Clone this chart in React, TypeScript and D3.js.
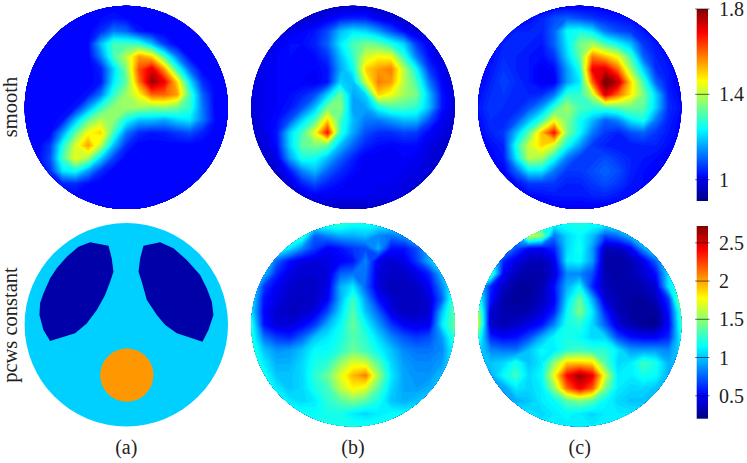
import React from "react";
import * as d3 from "d3";

const W = 747, H = 463;
// Field samples, in hundredths of the plotted quantity.
// 17 x 17 lattice over the disk's bounding square.
const smoothTruth = [
[101,101,101,101,101,101,101,101,101,101,101,101,101,101,101,101,101],
[101,101,101,101,101,101,102,103,102,101,101,101,101,101,101,101,101],
[101,101,101,101,101,101,105,112,110,103,101,101,101,101,101,101,101],
[101,101,101,101,101,102,118,130,130,128,118,106,101,101,101,101,101],
[101,101,101,101,101,101,113,130,140,155,150,130,112,101,101,101,101],
[101,101,101,101,101,101,104,120,135,162,172,155,128,110,101,101,101],
[101,101,101,101,101,101,103,122,132,158,178,170,150,122,105,101,101],
[101,101,101,101,101,103,112,128,138,146,160,160,155,130,110,101,101],
[101,101,101,101,103,115,128,136,138,138,136,137,134,128,112,101,101],
[101,101,101,103,118,132,140,136,125,118,118,116,120,122,112,102,101],
[101,101,101,115,132,146,150,130,112,105,103,104,106,108,104,101,101],
[101,101,106,126,143,155,140,118,105,101,101,101,101,101,101,101,101],
[101,101,108,130,145,138,120,107,101,101,101,101,101,101,101,101,101],
[101,101,105,122,125,115,105,101,101,101,101,101,101,101,101,101,101],
[101,101,101,104,105,102,101,101,101,101,101,101,101,101,101,101,101],
[101,101,101,101,101,101,101,101,101,101,101,101,101,101,101,101,101],
[101,101,101,101,101,101,101,101,101,101,101,101,101,101,101,101,101],
];
const smoothMiddle = [
[96,96,96,96,96,96,96,96,96,96,96,96,96,96,96,96,96],
[96,96,96,96,96,98,100,103,104,104,100,98,96,96,96,96,96],
[96,96,97,99,101,103,108,118,122,120,115,108,102,98,96,96,96],
[96,97,100,102,102,104,110,122,130,134,132,126,120,106,100,97,96],
[96,99,101,102,101,102,106,118,128,142,146,145,128,112,102,98,96],
[97,100,101,101,101,101,103,116,124,150,155,158,140,124,106,100,96],
[98,100,101,101,101,100,103,120,118,142,158,155,140,130,112,101,97],
[98,100,101,102,104,108,120,133,116,120,150,145,138,134,118,103,98],
[98,100,101,103,108,118,134,136,115,116,125,130,130,128,118,103,98],
[97,100,102,108,120,130,150,130,118,112,112,115,118,118,108,100,97],
[97,99,103,120,130,145,168,128,116,108,105,105,107,106,101,99,97],
[96,98,102,120,132,135,132,118,110,104,102,101,102,102,99,97,96],
[96,97,99,115,126,125,118,110,104,100,100,100,101,100,98,97,96],
[96,96,97,103,113,118,110,105,102,100,100,100,100,99,98,96,96],
[96,96,96,98,104,108,104,102,100,100,100,100,99,98,97,96,96],
[96,96,96,96,98,100,100,100,100,100,99,99,98,97,96,96,96],
[96,96,96,96,96,96,96,96,96,96,96,96,96,96,96,96,96],
];
const smoothRight = [
[100,100,100,100,100,100,100,100,100,100,100,100,100,100,100,100,100],
[100,100,100,100,102,104,108,110,108,106,104,103,102,101,100,100,100],
[100,100,102,104,104,104,110,124,126,122,112,108,106,103,101,100,100],
[100,102,104,104,104,103,110,122,134,138,130,124,118,106,103,100,100],
[100,102,105,104,103,102,106,120,132,158,152,145,130,110,104,102,100],
[100,103,106,104,103,100,102,115,126,170,172,160,138,120,105,103,100],
[101,104,107,105,103,100,100,115,122,160,182,175,150,130,110,103,100],
[102,105,106,104,104,105,112,128,128,140,172,160,148,135,120,104,101],
[103,106,105,104,108,115,128,138,130,128,130,132,134,132,120,105,102],
[102,105,104,108,118,128,145,135,125,118,110,113,122,126,112,104,101],
[101,104,106,118,132,152,168,135,124,112,106,104,108,110,106,103,101],
[100,102,104,126,142,150,142,125,115,106,104,103,103,104,104,102,100],
[100,101,103,122,140,138,125,112,106,106,108,106,104,103,102,101,100],
[100,100,101,110,122,122,112,106,106,108,110,108,104,102,101,100,100],
[100,100,100,102,106,106,106,104,104,106,108,106,103,102,101,100,100],
[100,100,100,100,101,102,103,103,103,104,104,103,102,101,100,100,100],
[100,100,100,100,100,100,100,100,100,100,100,100,100,100,100,100,100],
];
const pcwsMiddle = [
[130,130,130,130,130,130,130,130,120,120,120,120,130,130,130,130,130],
[130,130,130,130,130,75,85,95,95,100,85,80,90,130,130,130,130],
[130,130,130,110,85,65,50,55,65,70,95,55,55,70,100,125,130],
[130,125,75,55,45,42,45,50,55,85,45,40,45,65,95,125,130],
[130,100,60,45,40,40,42,75,80,80,42,38,38,45,60,100,130],
[125,65,48,40,38,38,45,95,110,75,42,35,35,38,50,85,130],
[115,55,45,38,36,38,50,95,130,90,55,40,35,35,42,75,140],
[110,52,40,36,38,45,70,105,135,100,75,45,36,36,40,100,140],
[125,55,42,42,50,65,95,115,140,115,90,65,50,45,48,110,140],
[125,80,65,60,75,100,110,120,135,125,105,85,72,65,70,90,130],
[130,100,88,90,100,115,115,125,140,130,115,100,85,80,80,85,120],
[130,110,95,95,105,120,125,150,170,165,135,105,90,85,85,90,120],
[130,120,100,100,105,125,140,170,195,210,155,110,92,88,88,100,120],
[130,120,110,100,105,120,130,160,180,170,135,105,92,90,95,110,120],
[120,120,120,110,105,110,125,135,145,135,120,100,95,100,110,120,120],
[120,120,120,120,120,115,120,120,110,105,110,115,115,115,120,120,120],
[120,120,120,120,120,120,120,120,120,120,120,120,120,120,120,120,120],
];
const pcwsRight = [
[120,120,120,120,120,120,120,120,120,120,120,120,120,120,120,120,120],
[120,120,120,100,170,150,80,105,115,100,70,80,100,130,130,120,120],
[120,120,110,70,50,50,60,105,120,90,35,35,50,90,130,130,120],
[120,130,60,45,35,33,45,110,115,90,30,28,33,45,75,115,120],
[120,140,50,35,30,30,42,85,85,70,32,30,32,40,55,110,120],
[120,60,38,28,27,32,55,95,115,60,35,30,30,33,42,110,130],
[130,55,30,27,28,35,50,105,140,95,40,32,28,28,35,65,170],
[160,40,32,30,33,42,60,115,145,110,60,35,28,26,26,55,135],
[165,38,33,38,45,55,85,120,125,105,75,42,32,25,25,50,130],
[130,60,52,55,70,95,115,120,115,105,105,70,55,50,50,60,120],
[110,85,80,80,100,115,110,125,130,125,125,110,90,90,90,85,110],
[100,100,105,120,100,110,150,190,190,185,135,105,110,130,120,95,100],
[100,95,115,130,105,115,175,240,265,245,170,110,110,120,115,95,100],
[100,100,90,110,105,110,150,215,245,220,145,110,105,105,100,100,100],
[100,100,100,95,100,110,115,135,145,135,115,105,100,100,100,100,100],
[110,110,110,110,110,105,110,115,110,105,110,110,110,110,110,110,110],
[110,110,110,110,110,110,110,110,110,110,110,110,110,110,110,110,110],
];
// Piecewise-constant truth: region values and outlines in unit-disk coordinates.
const pcwsBackground = 1.03, pcwsLungValue = 0.3, pcwsInclusionValue = 2.03;
const lungLeft: [number, number][] = [[-.175,-.777],[-.356,-.81],[-.47,-.767],[-.585,-.669],[-.684,-.554],[-.749,-.456],[-.815,-.308],[-.848,-.21],[-.854,-.095],[-.815,.052],[-.749,.161],[-.503,.085],[-.389,-.013],[-.29,-.144],[-.208,-.292],[-.159,-.423],[-.126,-.521],[-.143,-.652]];
const lungRight: [number, number][] = [[.169,-.777],[.333,-.81],[.464,-.751],[.595,-.636],[.726,-.489],[.792,-.357],[.841,-.226],[.857,-.095],[.808,.052],[.749,.167],[.497,.085],[.382,.003],[.3,-.095],[.202,-.243],[.152,-.423],[.12,-.521],[.136,-.652]];
const inclusion = { u: 0.005, v: 0.495, r: 0.262 };

const smoothDomain: [number, number] = [0.9, 1.8];
const pcwsDomain: [number, number] = [0.2, 2.72];
const smoothTicks = [1, 1.4, 1.8];
const pcwsTicks = [0.5, 1, 1.5, 2, 2.5];
const columnLabels = ["(a)", "(b)", "(c)"];

const FONT = "'Liberation Serif', serif";
const R = 101.7;
const COLX = [126.3, 353, 579.7];
const ROWY = [107.4, 324.7];

const jetT = d3.scaleLinear<string>()
  .domain([0, 1 / 8, 3 / 8, 5 / 8, 7 / 8, 1])
  .range(["#000080", "#0000ff", "#00ffff", "#ffff00", "#ff0000", "#800000"])
  .clamp(true);

function Field({ grid, domain, cx, cy, id }: { grid: number[][]; domain: [number, number]; cx: number; cy: number; id: string }) {
  const n = grid.length;
  const values = grid.flat().map((v) => v / 100);
  const t = d3.scaleLinear().domain(domain).range([0, 1]);
  const levels = d3.range(90).map((k) => domain[0] + ((domain[1] - domain[0]) * k) / 90);
  const sx = d3.scaleLinear().domain([0.5, n - 0.5]).range([cx - R, cx + R]);
  const sy = d3.scaleLinear().domain([0.5, n - 0.5]).range([cy - R, cy + R]);
  const path = d3.geoPath(
    d3.geoTransform({
      point(x: number, y: number) {
        (this as any).stream.point(sx(x), sy(y));
      },
    })
  );
  const polys = d3.contours().size([n, n]).thresholds(levels)(values);
  const step = (domain[1] - domain[0]) / 90;
  return (
    <g>
      <clipPath id={id}>
        <circle cx={cx} cy={cy} r={R} />
      </clipPath>
      <g clipPath={`url(#${id})`}>
        <circle cx={cx} cy={cy} r={R} fill={jetT(t(d3.min(values)!))} />
        {polys.map((c, k) =>
          c.coordinates.length ? <path key={k} d={path(c as any) || ""} fill={jetT(t(c.value + step / 2))} /> : null
        )}
      </g>
    </g>
  );
}

function Truth({ cx, cy }: { cx: number; cy: number }) {
  const t = d3.scaleLinear().domain(pcwsDomain).range([0, 1]);
  const x = d3.scaleLinear().domain([-1, 1]).range([cx - R, cx + R]);
  const y = d3.scaleLinear().domain([-1, 1]).range([cy - R, cy + R]);
  const line = d3.line<[number, number]>().x((d) => x(d[0])).y((d) => y(d[1])).curve(d3.curveLinearClosed);
  return (
    <g>
      <circle cx={cx} cy={cy} r={R} fill={jetT(t(pcwsBackground))} />
      <path d={line(lungLeft)!} fill={jetT(t(pcwsLungValue))} />
      <path d={line(lungRight)!} fill={jetT(t(pcwsLungValue))} />
      <circle cx={x(inclusion.u)} cy={y(inclusion.v)} r={x(inclusion.r) - x(0)} fill={jetT(t(pcwsInclusionValue))} />
    </g>
  );
}

function ColorBar({ domain, ticks, top, bottom, id, fmt }: { domain: [number, number]; ticks: number[]; top: number; bottom: number; id: string; fmt: (v: number) => string }) {
  const x0 = 696.7, x1 = 708;
  const y = d3.scaleLinear().domain(domain).range([bottom, top]);
  const stops = [0, 1 / 8, 3 / 8, 5 / 8, 7 / 8, 1];
  return (
    <g>
      <defs>
        <linearGradient id={id} x1="0" y1="1" x2="0" y2="0">
          {stops.map((s) => (
            <stop key={s} offset={s} stopColor={jetT(s)} />
          ))}
        </linearGradient>
      </defs>
      <rect x={x0} y={top} width={x1 - x0} height={bottom - top} fill={`url(#${id})`} />
      {ticks.map((v) => (
        <g key={v}>
          <line x1={x0 - 1.5} x2={x1 + 1.5} y1={y(v)} y2={y(v)} stroke="#000" strokeOpacity={0.75} strokeWidth={0.8} />
          <text x={719} y={y(v) + 7} fontFamily={FONT} fontSize={20} fill="#222">{fmt(v)}</text>
        </g>
      ))}
    </g>
  );
}

export default function App() {
  return (
    <svg width={W} height={H} viewBox={`0 0 ${W} ${H}`} style={{ position: "absolute", left: 0, top: 0, display: "block", background: "#fff" }}>
      <Field grid={smoothTruth} domain={smoothDomain} cx={COLX[0]} cy={ROWY[0]} id="f1" />
      <Field grid={smoothMiddle} domain={smoothDomain} cx={COLX[1]} cy={ROWY[0]} id="f2" />
      <Field grid={smoothRight} domain={smoothDomain} cx={COLX[2]} cy={ROWY[0]} id="f3" />
      <Truth cx={COLX[0]} cy={ROWY[1]} />
      <Field grid={pcwsMiddle} domain={pcwsDomain} cx={COLX[1]} cy={ROWY[1]} id="f4" />
      <Field grid={pcwsRight} domain={pcwsDomain} cx={COLX[2]} cy={ROWY[1]} id="f5" />
      <ColorBar domain={smoothDomain} ticks={smoothTicks} top={9} bottom={201} id="g1" fmt={(v) => (Number.isInteger(v) ? String(v) : v.toFixed(1))} />
      <ColorBar domain={pcwsDomain} ticks={pcwsTicks} top={226} bottom={418.7} id="g2" fmt={(v) => (Number.isInteger(v) ? String(v) : v.toFixed(1))} />
      <text transform="translate(17,107) rotate(-90)" textAnchor="middle" fontFamily={FONT} fontSize={20.5} fill="#222">smooth</text>
      <text transform="translate(17,325) rotate(-90)" textAnchor="middle" fontFamily={FONT} fontSize={20.5} fill="#222">pcws constant</text>
      {columnLabels.map((s, i) => (
        <text key={s} x={COLX[i]} y={454} textAnchor="middle" fontFamily={FONT} fontSize={20} fill="#222">{s}</text>
      ))}
    </svg>
  );
}
